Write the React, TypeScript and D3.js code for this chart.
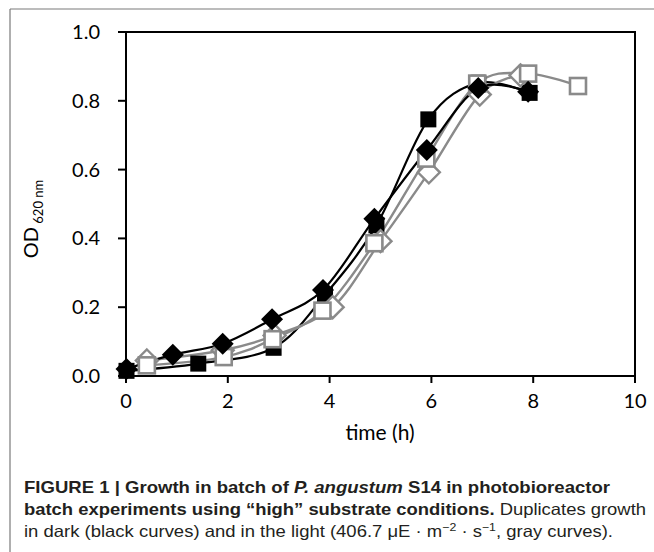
import React from 'react';
import * as d3 from 'd3';

// OD 620 nm readings
const darkSquareTime = [0.01, 1.42, 2.9, 3.91, 4.92, 5.94, 6.92, 7.93];
const darkSquareOD = [0.015, 0.036, 0.082, 0.236, 0.438, 0.746, 0.852, 0.823];
const darkSquareErr = [0, 0, 0, 0, 0, 0, 0.02, 0];

const darkDiamondTime = [0.01, 0.92, 1.9, 2.87, 3.87, 4.88, 5.91, 6.92, 7.9];
const darkDiamondOD = [0.02, 0.062, 0.094, 0.165, 0.25, 0.457, 0.657, 0.837, 0.826];

const lightDiamondTime = [0.41, 1.9, 2.92, 4.06, 5.0, 5.95, 6.95, 7.75];
const lightDiamondOD = [0.045, 0.075, 0.118, 0.2, 0.392, 0.592, 0.818, 0.874];

const lightSquareTime = [0.41, 1.92, 2.88, 3.86, 4.88, 5.9, 6.9, 7.9, 8.88];
const lightSquareOD = [0.031, 0.055, 0.107, 0.19, 0.386, 0.632, 0.85, 0.879, 0.843];

const xTicks = [0, 2, 4, 6, 8, 10];
const yTicks = [0, 0.2, 0.4, 0.6, 0.8, 1.0];

const W = 654;
const H = 552;
const plot = { left: 126, right: 635, top: 32, bottom: 376 };
const GRAY = '#8a8a8a';
const AXIS_FONT = 'Lato, "Open Sans", sans-serif';
const CAP_FONT = '"Liberation Sans", Arial, sans-serif';

type Pt = { t: number; v: number };
const zip = (ts: number[], vs: number[]): Pt[] => ts.map((t, i) => ({ t, v: vs[i] }));

const App: React.FC = () => {
  const x = d3.scaleLinear().domain([0, 10]).range([plot.left, plot.right]);
  const y = d3.scaleLinear().domain([0, 1]).range([plot.bottom, plot.top]);

  const line = d3.line<Pt>()
    .x(d => x(d.t))
    .y(d => y(d.v))
    .curve(d3.curveCardinal.tension(0));

  const darkSq = zip(darkSquareTime, darkSquareOD);
  const darkDi = zip(darkDiamondTime, darkDiamondOD);
  const lightDi = zip(lightDiamondTime, lightDiamondOD);
  const lightSq = zip(lightSquareTime, lightSquareOD);

  const sq = 16;
  const di = 11;
  const diamond = (cx: number, cy: number, r: number) =>
    `M${cx},${cy - r}L${cx + r},${cy}L${cx},${cy + r}L${cx - r},${cy}Z`;

  return (
    <svg width={W} height={H} style={{ position: 'absolute', left: 0, top: 0, background: '#fff' }}>
      {/* frame */}
      <line x1={10} y1={9} x2={W} y2={9} stroke="#7a7a7a" strokeWidth={1.2} />
      <line x1={10} y1={9} x2={10} y2={H} stroke="#7a7a7a" strokeWidth={1.2} />

      {/* curves */}
      <path d={line(darkSq) ?? ''} fill="none" stroke="#000" strokeWidth={2.2} />
      <path d={line(lightDi) ?? ''} fill="none" stroke={GRAY} strokeWidth={2.4} />
      <path d={line(lightSq) ?? ''} fill="none" stroke={GRAY} strokeWidth={2.4} />
      <path d={line(darkDi) ?? ''} fill="none" stroke="#000" strokeWidth={2.2} />

      {/* error bars */}
      {darkSq.map((d, i) =>
        darkSquareErr[i] > 0 ? (
          <g key={`e${i}`} stroke="#000" strokeWidth={2.5}>
            <line x1={x(d.t)} x2={x(d.t)} y1={y(d.v)} y2={y(d.v + darkSquareErr[i])} />
            <line x1={x(d.t) - 7} x2={x(d.t) + 7} y1={y(d.v + darkSquareErr[i])} y2={y(d.v + darkSquareErr[i])} />
          </g>
        ) : null
      )}

      {/* markers */}
      {darkSq.map((d, i) => (
        <rect key={`ds${i}`} x={x(d.t) - sq / 2} y={y(d.v) - sq / 2} width={sq} height={sq} fill="#000" />
      ))}
      {lightDi.map((d, i) => (
        <path key={`ld${i}`} d={diamond(x(d.t), y(d.v), di)} fill="#fff" stroke={GRAY} strokeWidth={2.4} />
      ))}
      {lightSq.map((d, i) => (
        <rect key={`ls${i}`} x={x(d.t) - 8} y={y(d.v) - 8} width={16} height={16} fill="#fff" stroke={GRAY} strokeWidth={2.6} />
      ))}
      {darkDi.map((d, i) => (
        <path key={`dd${i}`} d={diamond(x(d.t), y(d.v), di)} fill="#000" />
      ))}

      {/* axes box */}
      <rect x={plot.left} y={plot.top} width={plot.right - plot.left} height={plot.bottom - plot.top}
        fill="none" stroke="#000" strokeWidth={2} />
      {xTicks.map(t => (
        <g key={`xt${t}`}>
          <line x1={x(t)} x2={x(t)} y1={plot.bottom} y2={plot.bottom + 7} stroke="#000" strokeWidth={2} />
          <text x={x(t)} y={408} textAnchor="middle" fontFamily={AXIS_FONT} fontSize={20} fill="#000">{t}</text>
        </g>
      ))}
      {yTicks.map(v => (
        <g key={`yt${v}`}>
          <line x1={plot.left - 8} x2={plot.left} y1={y(v)} y2={y(v)} stroke="#000" strokeWidth={2} />
          <text x={100} y={y(v) + 7} textAnchor="end" fontFamily={AXIS_FONT} fontSize={20} fill="#000">{v.toFixed(1)}</text>
        </g>
      ))}

      {/* axis titles */}
      <text x={380} y={440} textAnchor="middle" fontFamily={AXIS_FONT} fontSize={21} fill="#000">time (h)</text>
      <text transform="translate(38,219) rotate(-90)" textAnchor="middle" fontFamily={AXIS_FONT} fontSize={20} fill="#000">
        OD<tspan fontSize={13} dy={5}>{' 620 nm'}</tspan>
      </text>

      {/* caption */}
      <text x={24} y={493} fontFamily={CAP_FONT} fontSize={16.5} fill="#231f20" textLength={586} lengthAdjust="spacingAndGlyphs">
        <tspan fontWeight="bold">FIGURE 1 | Growth in batch of </tspan>
        <tspan fontWeight="bold" fontStyle="italic">P. angustum</tspan>
        <tspan fontWeight="bold"> S14 in photobioreactor</tspan>
      </text>
      <text x={24} y={515} fontFamily={CAP_FONT} fontSize={16.5} fill="#231f20" textLength={622} lengthAdjust="spacingAndGlyphs">
        <tspan fontWeight="bold">batch experiments using “high” substrate conditions.</tspan>
        <tspan> Duplicates growth</tspan>
      </text>
      <text x={24} y={537} fontFamily={CAP_FONT} fontSize={16.5} fill="#231f20" textLength={589} lengthAdjust="spacingAndGlyphs">
        in dark (black curves) and in the light (406.7 μE · m
        <tspan fontSize={11} dy={-6}>−2</tspan>
        <tspan dy={6}> · s</tspan>
        <tspan fontSize={11} dy={-6}>−1</tspan>
        <tspan dy={6}>, gray curves).</tspan>
      </text>
    </svg>
  );
};

export default App;
